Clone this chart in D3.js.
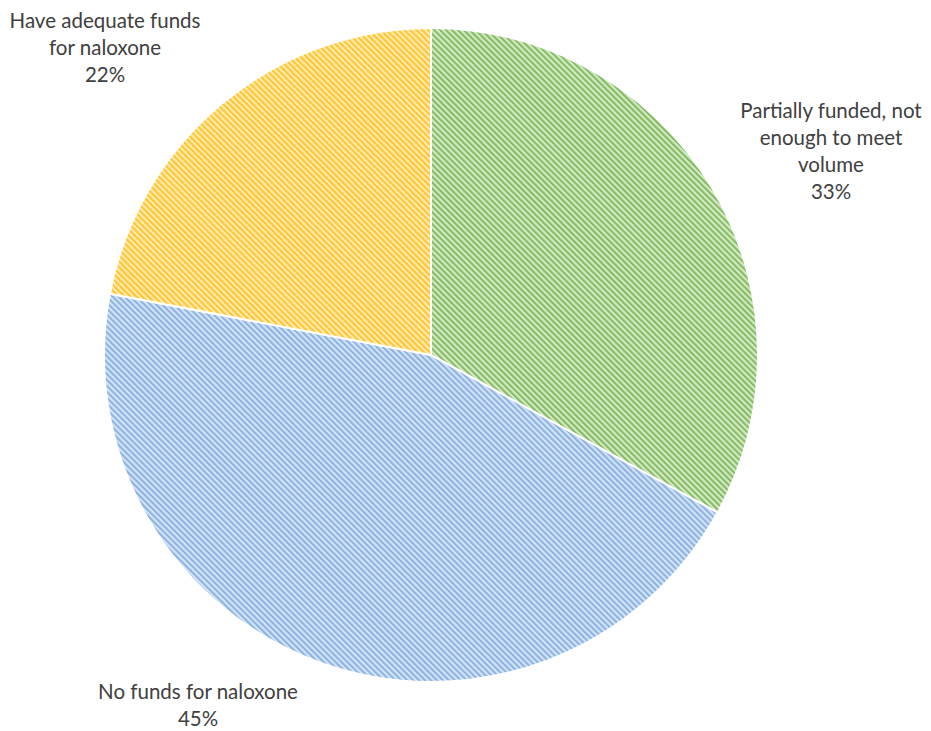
<!DOCTYPE html>
<html>
<head>
<meta charset="utf-8">
<script src="https://cdn.jsdelivr.net/npm/d3@7"></script>
<style>
  body { margin: 0; background: #fff; }
  text { font-family: Lato, "Open Sans", sans-serif; fill: #404040; }
</style>
</head>
<body>
<svg id="chart" width="931" height="731"></svg>
<script>
var categories = ["Partially funded, not enough to meet volume", "No funds for naloxone", "Have adequate funds for naloxone"];
var values = [33, 45, 22];
var labelLines = [
  ["Partially funded, not", "enough to meet", "volume", "33%"],
  ["No funds for naloxone", "45%"],
  ["Have adequate funds", "for naloxone", "22%"]
];

var svg = d3.select("#chart"),
    width = +svg.attr("width"),
    height = +svg.attr("height");

var cx = 431, cy = 355, radius = 327;

// light fill + darker stripe for each slice
var fills = [
  {light: "#d3e8c5", dark: "#84bb60"},
  {light: "#d3e2f5", dark: "#8ab2e2"},
  {light: "#ffeab3", dark: "#ffc52a"}
];

var defs = svg.append("defs");
fills.forEach(function(f, i) {
  var p = defs.append("pattern")
    .attr("id", "hatch" + i)
    .attr("patternUnits", "userSpaceOnUse")
    .attr("width", 4.2)
    .attr("height", 4.2)
    .attr("patternTransform", "rotate(-45)");
  p.append("rect").attr("width", 4.2).attr("height", 4.2).attr("fill", f.light);
  p.append("rect").attr("width", 2).attr("height", 4.2).attr("fill", f.dark);
});

var pie = d3.pie().sort(null).value(function(d) { return d; });
var arc = d3.arc().innerRadius(0).outerRadius(radius);

var g = svg.append("g").attr("transform", "translate(" + cx + "," + cy + ")");

g.selectAll("path.slice")
  .data(pie(values))
  .enter().append("path")
  .attr("class", "slice")
  .attr("d", arc)
  .attr("fill", function(d, i) { return "url(#hatch" + i + ")"; })
  .attr("stroke", "#fff")
  .attr("stroke-width", 2);

// label anchors (offset of the first baseline from the pie centre)
var labelPos = [[400, -237], [-233, 344], [-326, -327]];
var lineHeight = 27;

g.selectAll("text.label")
  .data(labelLines)
  .enter().append("text")
  .attr("class", "label")
  .attr("text-anchor", "middle")
  .attr("font-size", 20.5)
  .each(function(lines, i) {
    var t = d3.select(this);
    lines.forEach(function(s, j) {
      t.append("tspan")
        .attr("x", labelPos[i][0])
        .attr("y", labelPos[i][1] + j * lineHeight)
        .text(s);
    });
  });
</script>
</body>
</html>
